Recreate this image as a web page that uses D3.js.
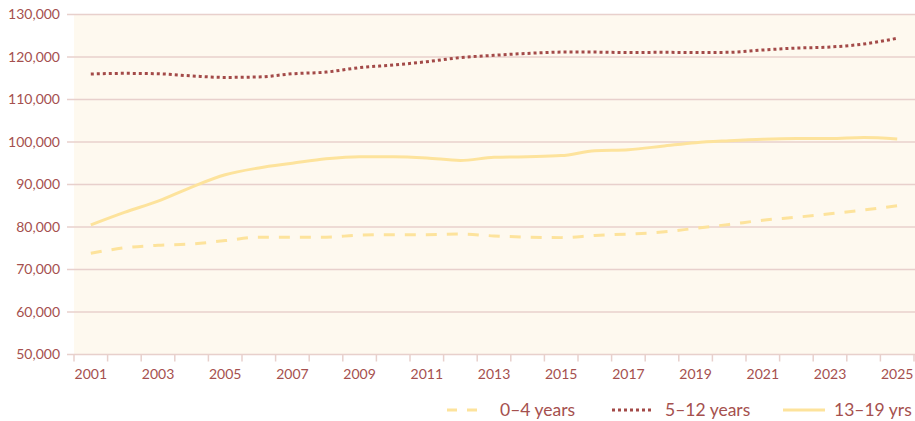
<!DOCTYPE html>
<html>
<head>
<meta charset="utf-8">
<script src="https://cdn.jsdelivr.net/npm/d3@7"></script>
<style>
  body { margin: 0; background: #fff; }
  svg { display: block; font-family: Lato, "Open Sans", sans-serif; }
</style>
</head>
<body>
<svg id="chart" width="915" height="421"></svg>
<script>
const years = d3.range(2001, 2026);
const yTicks = [50000, 60000, 70000, 80000, 90000, 100000, 110000, 120000, 130000];

const age0to4 = [73800, 75100, 75700, 76000, 76800, 77600, 77600, 77600, 78100, 78200, 78200, 78350,
  77900, 77600, 77500, 78000, 78350, 78800, 79700, 80600, 81600, 82300, 83100, 84000, 85000];
const age5to12 = [116000, 116150, 116050, 115550, 115200, 115300, 116050, 116450, 117500, 118100, 118900, 119850,
  120400, 120850, 121150, 121150, 121050, 121100, 121050, 121100, 121650, 122100, 122350, 123050, 124400];
const age13to19 = [80500, 83450, 86100, 89400, 92300, 93900, 95000, 96050, 96550, 96550, 96250, 95650,
  96400, 96550, 96800, 97950, 98200, 99000, 99850, 100300, 100650, 100800, 100800, 101050, 100700];

const seriesNames = ["0\u20134 years", "5\u201312 years", "13\u201319 yrs"];

const textColor = "#a5504e";
const gridColor = "#e8d0cc";

const svg = d3.select("#chart");
const plotLeft = 74, plotRight = 915, plotTop = 14.5, plotBottom = 354.5;

const x = d3.scaleBand().domain(years).range([plotLeft, 914]);
const y = d3.scaleLinear().domain([50000, 130000]).range([plotBottom, plotTop]);

svg.append("rect")
  .attr("x", plotLeft)
  .attr("y", plotTop)
  .attr("width", plotRight - plotLeft)
  .attr("height", plotBottom - plotTop)
  .attr("fill", "#fef9ef");

// grid lines
svg.append("g")
  .selectAll("line")
  .data(yTicks)
  .enter()
  .append("line")
  .attr("x1", plotLeft - 7)
  .attr("x2", plotRight)
  .attr("y1", d => y(d))
  .attr("y2", d => y(d))
  .attr("stroke", gridColor)
  .attr("stroke-width", 1.5);

const yAxis = svg.append("g")
  .attr("transform", `translate(${plotLeft},0)`)
  .call(d3.axisLeft(y).tickValues(yTicks).tickSize(0).tickPadding(14).tickFormat(d3.format(",")));
yAxis.select(".domain").remove();
yAxis.selectAll("text")
  .attr("fill", textColor)
  .attr("font-size", "14px")
  .attr("font-family", "Lato, sans-serif");

// x tick marks at band edges
const edges = years.map(d => x(d)).concat([x.range()[1]]);
svg.append("g")
  .selectAll("line")
  .data(edges)
  .enter()
  .append("line")
  .attr("x1", d => d)
  .attr("x2", d => d)
  .attr("y1", plotBottom)
  .attr("y2", plotBottom + 7)
  .attr("stroke", gridColor)
  .attr("stroke-width", 1.5);

const xAxis = svg.append("g")
  .attr("transform", `translate(0,${plotBottom})`)
  .call(d3.axisBottom(x).tickSize(0).tickPadding(15)
    .tickFormat(d => (d % 2 === 1 ? d : "")));
xAxis.select(".domain").remove();
xAxis.selectAll("text")
  .attr("fill", textColor)
  .attr("font-size", "14px")
  .attr("font-family", "Lato, sans-serif");

const cx = d => x(d) + x.bandwidth() / 2;

const series = [
  { name: seriesNames[0], values: age0to4, color: "#fde39c", dash: "11 10", width: 3 },
  { name: seriesNames[1], values: age5to12, color: "#a34a48", dash: "3 3", width: 3 },
  { name: seriesNames[2], values: age13to19, color: "#fde39c", dash: null, width: 3 }
];

const line = d3.line()
  .x((d, i) => cx(years[i]))
  .y(d => y(d))
  .curve(d3.curveMonotoneX);

series.forEach(s => {
  svg.append("path")
    .datum(s.values)
    .attr("d", line)
    .attr("fill", "none")
    .attr("stroke", s.color)
    .attr("stroke-width", s.width)
    .attr("stroke-dasharray", s.dash);
});

// legend
const legendX = [447, 612, 783];
const legend = svg.selectAll(".legend")
  .data(series)
  .enter()
  .append("g")
  .attr("class", "legend")
  .attr("transform", (d, i) => `translate(${legendX[i]}, 410)`);

legend.append("line")
  .attr("x1", 0)
  .attr("x2", d => (d.dash === "11 10" ? 34 : 42))
  .attr("stroke", d => d.color)
  .attr("stroke-width", 3)
  .attr("stroke-dasharray", d => (d.dash === "11 10" ? "10 10" : d.dash));

legend.append("text")
  .attr("x", (d, i) => (i === 2 ? 51 : 53))
  .attr("y", 6)
  .attr("fill", textColor)
  .attr("font-size", "17.5px")
  .text(d => d.name);
</script>
</body>
</html>
